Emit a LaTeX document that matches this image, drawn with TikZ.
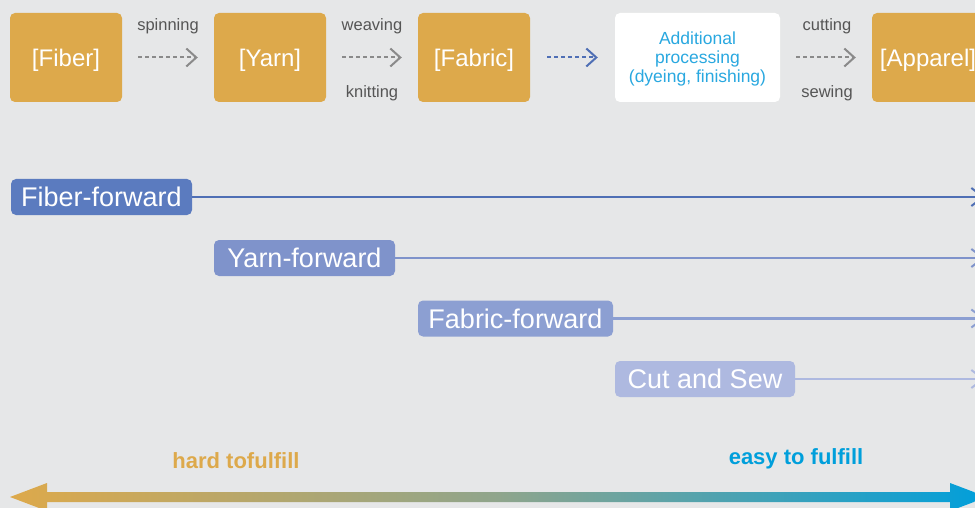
\documentclass[tikz,border=0pt]{standalone}
\usepackage{fontspec}
\setmainfont{Liberation Sans}
\usetikzlibrary{arrows.meta}
\definecolor{bg}{HTML}{E6E7E8}
\definecolor{gold}{HTML}{DDA94B}
\definecolor{procblue}{HTML}{29A8E0}
\definecolor{easyblue}{HTML}{009FDB}
\definecolor{lblgray}{HTML}{555555}
\definecolor{arrgray}{HTML}{8A8A8A}
\definecolor{arrblue}{HTML}{4F6FB5}
\definecolor{laneA}{HTML}{5B7BBF}
\definecolor{laneB}{HTML}{7F93CB}
\definecolor{laneC}{HTML}{8C9FD2}
\definecolor{laneD}{HTML}{AEB9E0}
\definecolor{midgrad}{HTML}{8FA58C}
\tikzset{
  stagebox/.style={fill=gold, rounded corners=5pt, minimum width=112pt, minimum height=89pt, inner sep=0pt, text=white, text height=18pt, text depth=0pt, font=\fontsize{24}{28}\selectfont},
  procbox/.style={fill=white, rounded corners=5pt, minimum width=165pt, minimum height=89pt, inner sep=0pt},
  proctext/.style={text=procblue, align=center, inner sep=0pt, font=\fontsize{17.5}{19}\selectfont},
  steplabel/.style={text=lblgray, inner sep=0pt, font=\fontsize{16.5}{19}\selectfont},
  flowarrow/.style={draw=arrgray, line width=2pt, dash pattern=on 4pt off 3pt, -{Straight Barb[length=10pt,width=18pt,line width=2pt]}, shorten <=16pt, shorten >=16pt},
  lanebox/.style={rounded corners=5pt, minimum height=36pt, inner sep=0pt, text=white, font=\fontsize{27}{30}\selectfont},
  laneline/.style={line width=2.5pt, -{Straight Barb[length=12pt,width=18pt,line width=2pt]}},
  endlabel/.style={inner sep=0pt, font=\bfseries\fontsize{22}{26}\selectfont}
}
\begin{document}
\begin{tikzpicture}[x=1pt,y=-1pt]
\useasboundingbox (0,0) rectangle (975,508);
\clip (0,0) rectangle (975,508);
\fill[bg] (0,0) rectangle (975,508);

% stages
\node[stagebox] (fiber) at (66,57.5) {[Fiber]};
\node[stagebox] (yarn) at (270,57.5) {[Yarn]};
\node[stagebox] (fabric) at (474,57.5) {[Fabric]};
\node[procbox] (proc) at (697.5,57.5) {};
\node[proctext] (proctxt) at (697.5,59) {Additional\\processing\\(dyeing, finishing)};
\node[stagebox] (apparel) at (928,57.5) {[Apparel]};

\draw[flowarrow] (fiber) -- (yarn);
\draw[flowarrow] (yarn) -- (fabric);
\draw[flowarrow, draw=arrblue, shorten <=17pt, shorten >=17pt] (fabric) -- (proc);
\draw[flowarrow] (proc) -- (apparel);

\node[steplabel] (lspin) at (168,26) {spinning};
\node[steplabel] (lweave) at (372,26) {weaving};
\node[steplabel] (lknit) at (372,93) {knitting};
\node[steplabel] (lcut) at (827,26) {cutting};
\node[steplabel] (lsew) at (827,93) {sewing};

% lanes
\node[lanebox, fill=laneA, minimum width=181pt] (ff) at (101.5,197) {Fiber-forward};
\node[lanebox, fill=laneB, minimum width=181pt] (yf) at (304.5,258) {Yarn-forward};
\node[lanebox, fill=laneC, minimum width=195pt] (fbf) at (515.5,318.5) {Fabric-forward};
\node[lanebox, fill=laneD, minimum width=180pt] (cs) at (705,379) {Cut and Sew};

\coordinate (ffend) at (985,197);
\coordinate (yfend) at (985,258);
\coordinate (fbfend) at (985,318.5);
\coordinate (csend) at (985,379);

\draw[laneline, draw=arrblue] (ff) -- (ffend);
\draw[laneline, draw=laneB] (yf) -- (yfend);
\draw[laneline, draw=laneC] (fbf) -- (fbfend);
\draw[laneline, draw=laneD] (cs) -- (csend);

% scale
\node[endlabel, text=gold] (hard) at (236,461) {hard tofulfill};
\node[endlabel, text=easyblue] (easy) at (796,459) {easy to fulfill};

\path[left color=gold, right color=easyblue, middle color=midgrad]
  (10,497) -- (47,483) -- (47,492) -- (950,492) -- (950,483) -- (987,497)
  -- (950,511) -- (950,502) -- (47,502) -- (47,511) -- cycle;
\end{tikzpicture}
\end{document}
